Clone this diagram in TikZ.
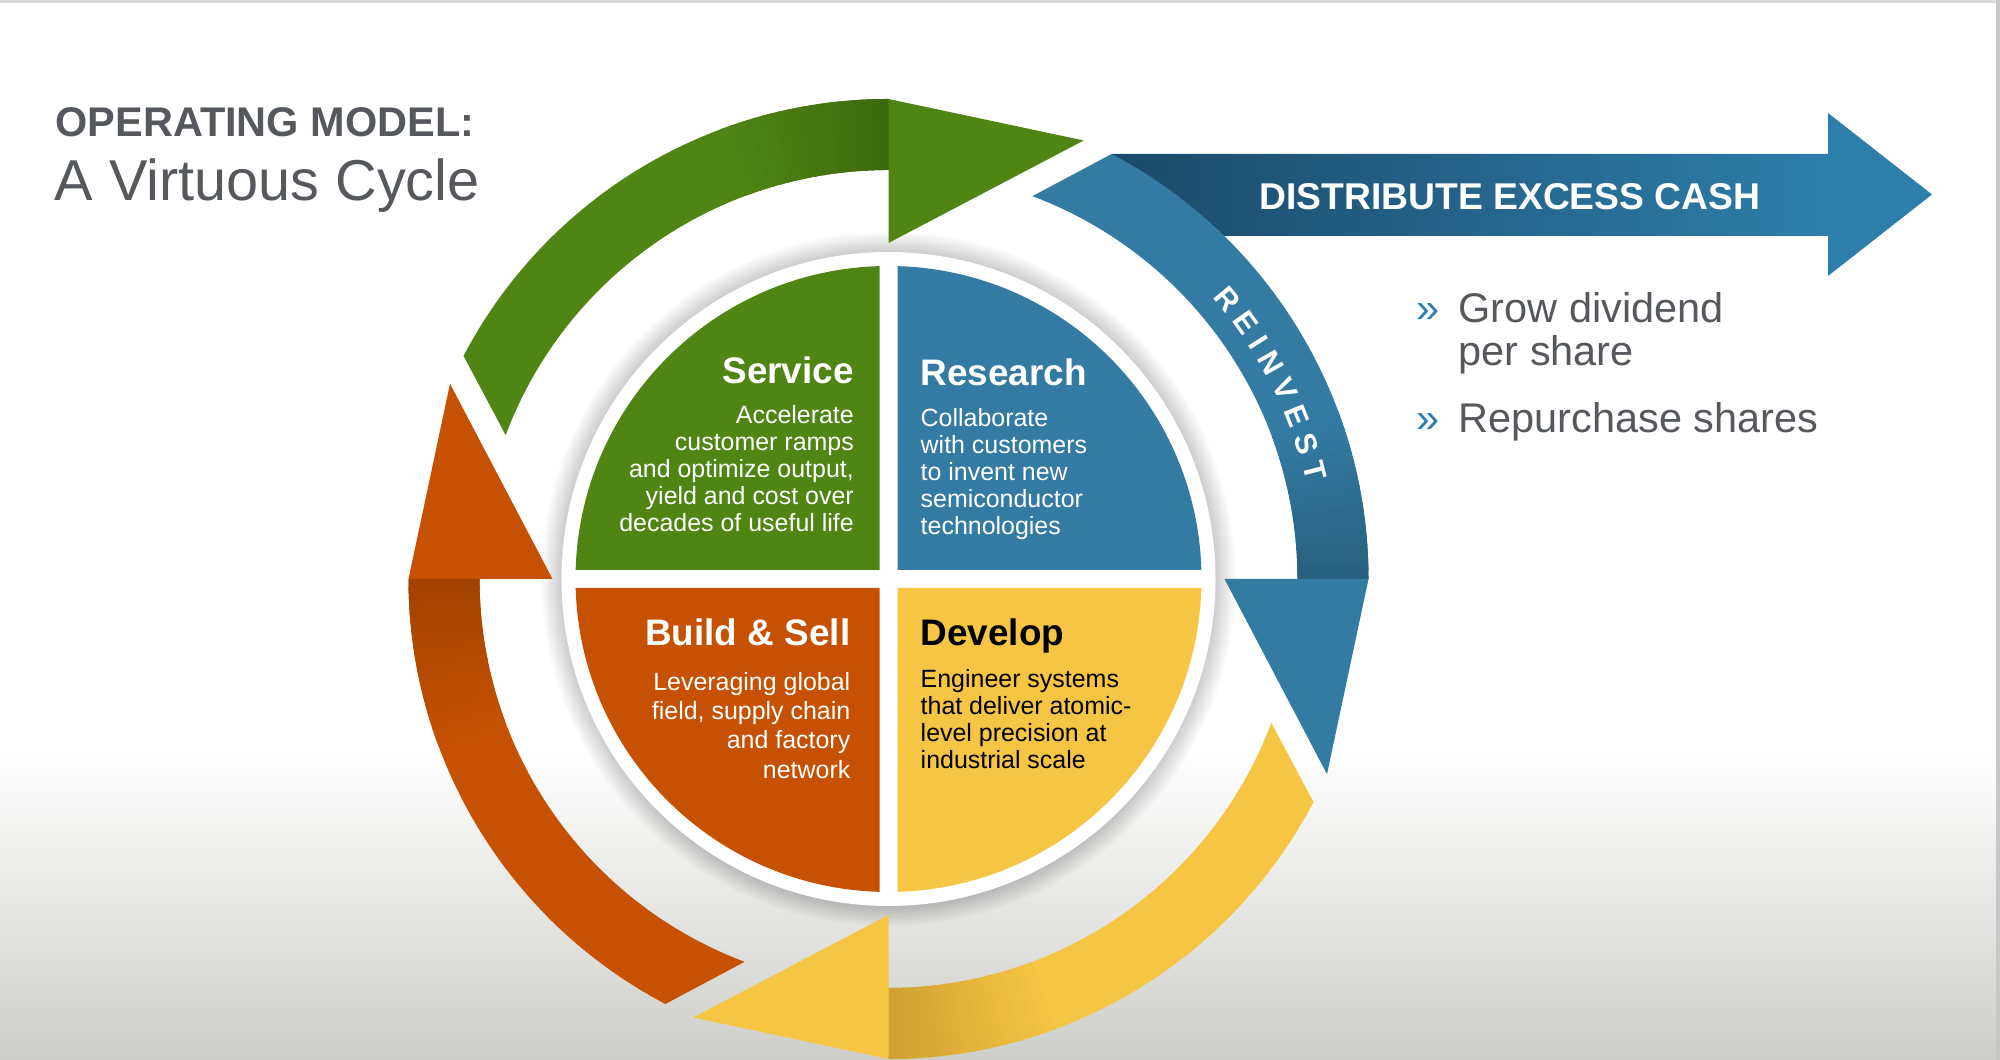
\documentclass[tikz,border=0pt]{standalone}
\usepackage{fontspec}
\setmainfont{Liberation Sans}
\usetikzlibrary{calc,decorations.text}
\definecolor{gbase}{HTML}{508514}
\definecolor{gdark}{HTML}{3D690E}
\definecolor{bbase}{HTML}{337BA3}
\definecolor{bdark}{HTML}{28617F}
\definecolor{obase}{HTML}{C65102}
\definecolor{odark}{HTML}{A34100}
\definecolor{ybase}{HTML}{F6C543}
\definecolor{ydark}{HTML}{D0A032}
\definecolor{txtgray}{HTML}{55585C}
\definecolor{banddark}{HTML}{1B4A69}
\definecolor{bandlight}{HTML}{2E7EAB}
\definecolor{bulletblue}{HTML}{2F80B2}
\definecolor{bgbottom}{HTML}{CDCDC9}
\def\rOut{4.80}
\def\rIn{4.09}
\def\rHead{3.36}
\newcommand\cyclearrow[3]{%
  \fill[#2] ($(C)+(#1+62.3:\rOut)$) arc[start angle=#1+62.3, end angle=#1, radius=\rOut]
    -- ($(C)+(#1-24:\rOut)$) -- ($(C)+(#1:\rHead)$) -- ($(C)+(#1:\rIn)$)
    arc[start angle=#1, end angle=#1+69.4, radius=\rIn] -- cycle;
  \foreach \i in {0,...,19}{%
    \pgfmathtruncatemacro\p{100-5*\i}%
    \pgfmathsetmacro\aa{#1+\i}%
    \pgfmathsetmacro\bb{#1+\i+1.4}%
    \fill[fill=#3!\p!#2] ($(C)+(\aa:\rIn)$) arc[start angle=\aa, end angle=\bb, radius=\rIn]
      -- ($(C)+(\bb:\rOut)$) arc[start angle=\bb, end angle=\aa, radius=\rOut] -- cycle;
  }%
}
\newcommand\quadrant[2]{%
  \fill[#2] ($(C)+(#1+45:0.1273)$) -- ($(C)+(#1+1.65:3.13)$)
    arc[start angle=#1+1.65, end angle=#1+88.35, radius=3.13] -- cycle;%
}
\tikzset{
  qtitle/.style={inner sep=0, font=\fontsize{10.5}{12}\selectfont\bfseries},
  qbody/.style={inner sep=0, font=\fontsize{7.1}{8.5}\selectfont},
  bigtxt/.style={inner sep=0, font=\fontsize{11.8}{14}\selectfont},
}
\begin{document}
\begin{tikzpicture}
\useasboundingbox (0,0) rectangle (20,10.6);
% background
\fill[white] (0,0) rectangle (20,10.6);
\shade[top color=white, bottom color=bgbottom] (0,0) rectangle (20,3.1);
\fill[black!15] (0,10.565) rectangle (20,10.6);
\fill[black!22] (19.96,0) rectangle (20,10.6);
\coordinate (C) at (8.885,4.81);
% disc shadow and white disc
\foreach \k in {1,...,12}{\fill[black,opacity=0.014] (C) circle[radius=3.27+0.017*\k];}
\fill[white] (C) circle[radius=3.27];
% quadrants
\quadrant{90}{gbase}
\quadrant{0}{bbase}
\quadrant{180}{obase}
\quadrant{270}{ybase}
% distribute band
\shade[left color=banddark, right color=bandlight] (11.116,9.06) -- (18.30,9.06) -- (18.30,8.24) -- (11.72,8.24) -- cycle;
\fill[bandlight] (18.28,9.06) -- (18.28,9.47) -- (19.32,8.655) -- (18.28,7.84) -- (18.28,8.24) -- cycle;
% cycle arrows
\cyclearrow{90}{gbase}{gdark}
\cyclearrow{0}{bbase}{bdark}
\cyclearrow{180}{obase}{odark}
\cyclearrow{-90}{ybase}{ydark}
% REINVEST along the ring
\path[decorate, decoration={text along path, text align=center,
  text={|\fontsize{8.6}{10}\selectfont\bfseries\color{white}|R E I N V E S T}}]
  ($(C)+(50:4.29)$) arc[start angle=50, end angle=4, radius=4.29];
% titles
\node[anchor=base west, inner sep=0, text=txtgray, font=\fontsize{11.8}{14}\selectfont\bfseries] (ttl) at (0.55,9.23) {OPERATING MODEL:};
\node[anchor=base west, inner sep=0, text=txtgray, font=\fontsize{16.4}{19}\selectfont] (sub) at (0.54,8.59) {A Virtuous Cycle};
\node[anchor=base, inner sep=0, text=white, font=\fontsize{10.6}{12}\selectfont\bfseries] (dist) at (15.10,8.50) {DISTRIBUTE EXCESS CASH};
% quadrant texts
\node[qtitle, anchor=base east, text=white] (svc) at (8.545,6.76) {Service};
\foreach \y/\t [count=\n] in {6.36/Accelerate, 6.09/customer ramps, 5.82/{and optimize output,}, 5.55/yield and cost over, 5.28/decades of useful life}
  \node[qbody, anchor=base east, text=white] (svc\n) at (8.545,\y) {\t};
\node[qtitle, anchor=base west, text=white] (res) at (9.20,6.74) {Research};
\foreach \y/\t [count=\n] in {6.33/Collaborate, 6.06/with customers, 5.79/to invent new, 5.52/semiconductor, 5.25/technologies}
  \node[qbody, anchor=base west, text=white] (res\n) at (9.20,\y) {\t};
\node[qtitle, anchor=base east, text=white] (bld) at (8.51,4.14) {Build \& Sell};
\foreach \y/\t [count=\n] in {3.69/Leveraging global, 3.40/{field, supply chain}, 3.11/and factory, 2.81/network}
  \node[qbody, anchor=base east, text=white] (bld\n) at (8.51,\y) {\t};
\node[qtitle, anchor=base west, text=black] (dev) at (9.20,4.14) {Develop};
\foreach \y/\t [count=\n] in {3.72/Engineer systems, 3.45/that deliver atomic-, 3.18/level precision at, 2.91/industrial scale}
  \node[qbody, anchor=base west, text=black] (dev\n) at (9.20,\y) {\t};
% bullets
\node[bigtxt, anchor=base west, text=bulletblue] (b1) at (14.16,7.375) {»};
\node[bigtxt, anchor=base west, text=txtgray] (g1) at (14.58,7.375) {Grow dividend};
\node[bigtxt, anchor=base west, text=txtgray] (g2) at (14.58,6.945) {per share};
\node[bigtxt, anchor=base west, text=bulletblue] (b2) at (14.16,6.275) {»};
\node[bigtxt, anchor=base west, text=txtgray] (r1) at (14.58,6.275) {Repurchase shares};
\end{tikzpicture}
\end{document}
